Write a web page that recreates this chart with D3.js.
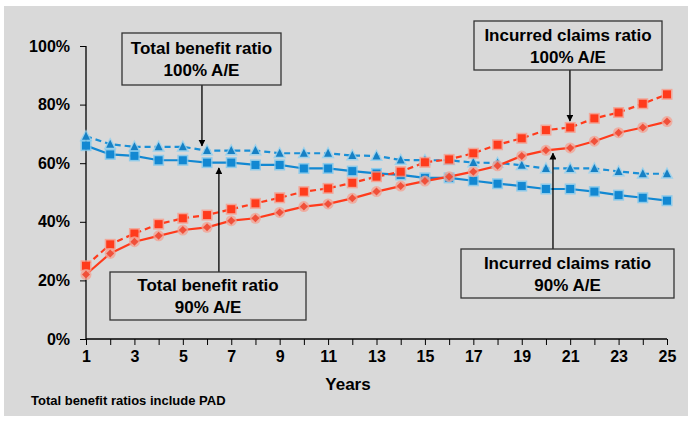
<!DOCTYPE html>
<html><head><meta charset="utf-8">
<script src="https://cdn.jsdelivr.net/npm/d3@7"></script>
<style>
html,body{margin:0;padding:0;background:#fff;}
svg{display:block;font-family:"Liberation Sans",Arial,sans-serif;font-weight:bold;}
</style></head><body>
<svg id="chart" width="691" height="422"></svg>
<script>
const years = d3.range(1, 26);
const xTickLabels = [1,3,5,7,9,11,13,15,17,19,21,23,25];
const yTicks = [0,20,40,60,80,100];
const totalBenefit90 = [66,63,62.5,61,61,60.2,60.2,59.4,59.4,58.2,58.2,57.3,56.5,56,55,55,54,53,52.2,51.2,51.2,50.3,49.1,48.2,47.2];
const totalBenefit100 = [69.2,66.5,65.6,65.6,65.6,64.3,64.3,64.3,63.4,63.4,63.4,62.6,62.5,61.1,61,61,60.2,60.1,59.3,58.2,58.2,58.2,57.2,56.4,56.4];
const incurred100 = [25,32.3,36,39.2,41.2,42.3,44.3,46.3,48.2,50.3,51.4,53.3,55.4,57.1,60.3,61.3,63.4,66.3,68.5,71.3,72.2,75.3,77.3,80.3,83.5];
const incurred90 = [22,29.2,33.2,35.2,37.2,38.1,40.4,41.2,43.2,45.2,46.1,48,50.3,52.2,53.9,55.4,57.1,59.1,62.5,64.4,65.2,67.5,70.4,72.2,74.2];
const annotations = [
  {lines:["Total benefit ratio","100% A/E"], box:[122,33,281,85], ax:5.79, tipY:65.9, dir:"down"},
  {lines:["Incurred claims ratio","100% A/E"], box:[474,21,662,70], ax:20.99, tipY:74.4, dir:"down"},
  {lines:["Total benefit ratio","90% A/E"], box:[110,272,306,320], ax:6.49, tipY:58.4, dir:"up"},
  {lines:["Incurred claims ratio","90% A/E"], box:[461,249,674,298], ax:20.29, tipY:63.4, dir:"up"}
];

const svg = d3.select("#chart");
svg.append("rect").attr("x",4).attr("y",6).attr("width",684).attr("height",410).attr("fill","#d9d9d9");

const x = d3.scaleLinear().domain([1,25]).range([86,667]);
const y = d3.scaleLinear().domain([0,100]).range([339,46]);

svg.append("defs").append("marker").attr("id","arrow").attr("viewBox","0 0 10 10")
  .attr("refX",9).attr("refY",5).attr("markerWidth",7).attr("markerHeight",7)
  .attr("markerUnits","userSpaceOnUse").attr("orient","auto")
  .append("path").attr("d","M0,0 L10,5 L0,10 z").attr("fill","#000");

// axes
const yAxis = d3.axisLeft(y).tickValues(yTicks).tickFormat(d=>d+"%").tickSize(6).tickPadding(10);
const gy = svg.append("g").attr("transform","translate(86,0)").call(yAxis);
gy.select(".domain").attr("stroke","#000").attr("stroke-width",1.3).attr("d","M0,46V339");
gy.selectAll("text").attr("font-size",16).attr("font-weight","bold").attr("fill","#000").attr("font-family","Liberation Sans, Arial, sans-serif");
gy.selectAll("line").attr("stroke","#000");

const xAxis = d3.axisBottom(x).tickValues(years).tickFormat(d=>xTickLabels.includes(d)?d:"").tickSize(6).tickPadding(6);
const gx = svg.append("g").attr("transform","translate(0,339)").call(xAxis);
gx.select(".domain").attr("stroke","#000").attr("stroke-width",1.3).attr("d","M86,0H667");
gx.selectAll("text").attr("font-size",16).attr("font-weight","bold").attr("fill","#000").attr("font-family","Liberation Sans, Arial, sans-serif");
gx.selectAll("line").attr("stroke","#000");

svg.append("text").attr("x",348).attr("y",390).attr("text-anchor","middle").attr("font-size",17).text("Years");
svg.append("text").attr("x",31).attr("y",405).attr("font-size",13).text("Total benefit ratios include PAD");

const series = [
  {vals:totalBenefit100, color:"#1a8fd6", halo:"#8fd0f0", dash:"6,4", marker:"triangle"},
  {vals:totalBenefit90, color:"#1288d2", halo:"#7cc7ee", dash:null, marker:"square"},
  {vals:incurred100, color:"#ff3b1c", halo:"#f79a88", dash:"6,4", marker:"square"},
  {vals:incurred90, color:"#ff3b1c", halo:"#f3a294", dash:null, marker:"circle"}
];
const line = d3.line().x((d,i)=>x(years[i])).y(d=>y(d));
series.forEach(s=>{
  svg.append("path").datum(s.vals).attr("d",line).attr("fill","none")
    .attr("stroke",s.color).attr("stroke-width",2.2).attr("stroke-dasharray",s.dash);
});
series.forEach(s=>{
  const g = svg.append("g");
  s.vals.forEach((v,i)=>{
    const cx = x(years[i]), cy = y(v);
    if(s.marker==="square"){
      g.append("rect").attr("x",cx-5.5).attr("y",cy-5.5).attr("width",11).attr("height",11).attr("fill",s.halo).attr("opacity",0.8);
      g.append("rect").attr("x",cx-4).attr("y",cy-4).attr("width",8).attr("height",8).attr("fill",s.color);
    } else if(s.marker==="triangle"){
      g.append("path").attr("d",`M${cx},${cy-7}L${cx+6.5},${cy+5}L${cx-6.5},${cy+5}Z`).attr("fill",s.halo).attr("opacity",0.8);
      g.append("path").attr("d",`M${cx},${cy-4.5}L${cx+4},${cy+3.5}L${cx-4},${cy+3.5}Z`).attr("fill","#1680c4");
    } else {
      g.append("circle").attr("cx",cx).attr("cy",cy).attr("r",5.5).attr("fill",s.halo).attr("opacity",0.8);
      g.append("path").attr("d",`M${cx},${cy-4}L${cx+4},${cy}L${cx},${cy+4}L${cx-4},${cy}Z`).attr("fill","#f0503a");
    }
  });
});

// annotations
annotations.forEach(a=>{
  const [x0,y0,x1,y1] = a.box;
  const ax = x(a.ax);
  const startY = a.dir==="down" ? y1 : y0;
  svg.append("line").attr("x1",ax).attr("y1",startY).attr("x2",ax).attr("y2",y(a.tipY))
    .attr("stroke","#000").attr("stroke-width",1.3).attr("marker-end","url(#arrow)");
  svg.append("rect").attr("x",x0).attr("y",y0).attr("width",x1-x0).attr("height",y1-y0)
    .attr("fill","#d9d9d9").attr("stroke","#333").attr("stroke-width",1.3);
  const cx = (x0+x1)/2, cy=(y0+y1)/2;
  a.lines.forEach((t,i)=>{
    svg.append("text").attr("x",cx).attr("y",cy-5+i*22).attr("text-anchor","middle")
      .attr("font-size",17).text(t);
  });
});
</script>
</body></html>
